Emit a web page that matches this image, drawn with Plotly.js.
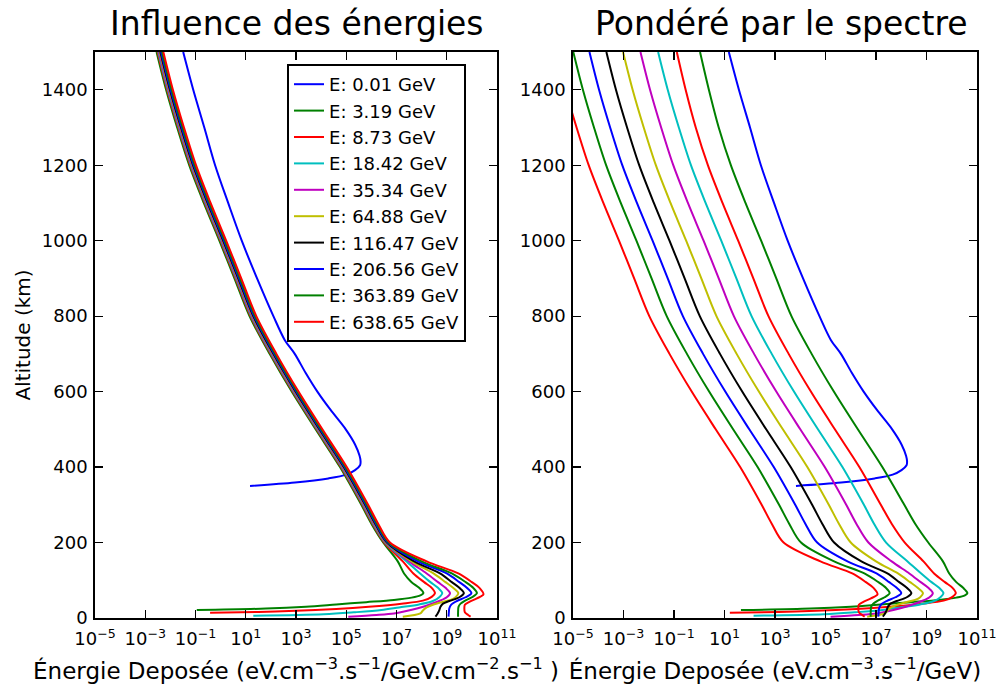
<!DOCTYPE html>
<html><head><meta charset="utf-8">
<script src="https://cdn.plot.ly/plotly-3.0.1.min.js"></script>
<style>html,body{margin:0;padding:0;background:#fff}#chart{width:1001px;height:691px}</style>
</head><body><div id="chart"></div>
<script>
// ---- labels ----
const energyLabels = ["E: 0.01 GeV","E: 3.19 GeV","E: 8.73 GeV","E: 18.42 GeV","E: 35.34 GeV","E: 64.88 GeV","E: 116.47 GeV","E: 206.56 GeV","E: 363.89 GeV","E: 638.65 GeV"];
const lineColors = ["#0000ff","#008000","#ff0000","#00bfbf","#bf00bf","#bfbf00","#000000","#0000ff","#008000","#ff0000"];
const xTickVals = [1e-5,1e-3,1e-1,1e1,1e3,1e5,1e7,1e9,1e11];
const xTickText = ["10<sup>−5</sup>","10<sup>−3</sup>","10<sup>−1</sup>","10<sup>1</sup>","10<sup>3</sup>","10<sup>5</sup>","10<sup>7</sup>","10<sup>9</sup>","10<sup>11</sup>"];
const yTickVals = [0,200,400,600,800,1000,1200,1400];

// ---- altitudes (km) ----
const altUpper = [1500,1400,1300,1200,1100,1000,900,800,700,600,500,400,300,250];
const alt_E001 = [1500,1400,1300,1200,1100,1000,900,800,737,700,650,600,552,500,460,430,415,405,392,380,370,359,350];
const alt_E319 = altUpper.concat([200,150,118,95,80,66,60,54,48,42,36,30,25,21]);
const alt_E873 = altUpper.concat([200,150,118,95,80,66,56,46,38,30,24,19,16,14]);
const alt_E1842 = altUpper.concat([200,150,118,95,80,66,55,45,36,28,21,15,10,6]);
const alt_E3534 = altUpper.concat([200,150,118,95,80,66,55,45,35,26,17,12,8,3.5]);
const alt_E6488 = altUpper.concat([200,150,118,95,80,66,55,48,42,35,28,20,12,3.5]);
const alt_E11647 = altUpper.concat([200,150,118,95,80,66,55,45,38,30,20,10,3.5]);
const alt_E20656 = altUpper.concat([200,150,118,95,80,66,55,45,35,25,12,3.5]);
const alt_E36389 = altUpper.concat([200,150,118,95,80,66,55,45,38,30,15,3.5]);
const alt_E63865 = altUpper.concat([200,150,118,95,80,63,52,43,35,25,15,8,3.5]);

// ---- log10 of deposited energy, left panel (per GeV.cm-2.s-1) ----
const left_E001 = [-1.49,-1.09,-0.65,-0.22,0.30,0.84,1.45,2.10,2.55,2.95,3.38,3.85,4.37,4.98,5.35,5.53,5.57,5.55,5.35,5.0,4.29,2.96,1.17];
const left_E319 = [-2.55,-2.17,-1.73,-1.25,-0.67,-0.05,0.55,1.15,1.95,2.83,3.78,4.75,5.60,6.00,6.47,7.05,7.3,7.6,7.9,8.07,7.95,7.6,6.9,5.8,4.6,3.4,1.8,-0.95];
const left_E873 = [-2.51,-2.13,-1.69,-1.21,-0.63,-0.01,0.59,1.19,1.99,2.87,3.82,4.79,5.64,6.04,6.51,7.25,7.67,8.1,8.4,8.53,8.4,8.05,7.2,5.9,4.6,3.0,1.5,-0.42];
const left_E1842 = [-2.48,-2.10,-1.66,-1.18,-0.60,0.02,0.62,1.22,2.02,2.90,3.85,4.82,5.67,6.07,6.55,7.4,7.94,8.35,8.65,8.82,8.7,8.45,7.9,7.1,6.4,5.3,4.1,1.3];
const left_E3534 = [-2.45,-2.07,-1.63,-1.15,-0.57,0.05,0.65,1.25,2.05,2.93,3.88,4.85,5.70,6.10,6.58,7.5,8.2,8.65,8.95,9.13,9.0,8.7,8.3,7.85,7.3,6.9,6.2,5.08];
const left_E6488 = [-2.42,-2.04,-1.60,-1.12,-0.54,0.08,0.68,1.28,2.08,2.96,3.91,4.88,5.73,6.13,6.60,7.6,8.47,8.95,9.25,9.46,9.35,9.15,8.8,8.45,8.2,8.05,7.95,7.25];
const left_E11647 = [-2.40,-2.02,-1.58,-1.10,-0.52,0.10,0.70,1.30,2.10,2.98,3.93,4.90,5.75,6.15,6.62,7.7,8.73,9.2,9.5,9.68,9.5,9.1,8.85,8.75,8.7,8.62,8.55];
const left_E20656 = [-2.37,-1.99,-1.55,-1.07,-0.49,0.13,0.73,1.33,2.13,3.01,3.96,4.93,5.78,6.18,6.65,7.85,9.0,9.5,9.8,9.98,9.75,9.4,9.17,9.1,9.08,9.07];
const left_E36389 = [-2.33,-1.95,-1.51,-1.03,-0.45,0.17,0.77,1.37,2.17,3.05,4.00,4.97,5.82,6.22,6.69,8.0,9.2,9.75,10.05,10.2,10.0,9.7,9.55,9.47,9.45,9.45];
const left_E63865 = [-2.28,-1.90,-1.46,-0.98,-0.40,0.22,0.82,1.42,2.22,3.10,4.05,5.02,5.87,6.27,6.74,8.2,9.46,10.0,10.3,10.46,10.2,9.9,9.72,9.7,9.72,9.85,9.95];

// ---- log10 of deposited energy, right panel (weighted by spectrum, per GeV) ----
const right_E001 = [1.17,1.57,2.01,2.44,2.96,3.50,4.11,4.76,5.21,5.61,6.04,6.51,7.03,7.64,8.01,8.19,8.23,8.21,8.01,7.66,6.95,5.62,3.83];
const right_E319 = [0.03,0.38,0.77,1.25,1.83,2.45,3.05,3.65,4.45,5.33,6.28,7.25,8.12,8.55,9.07,9.65,9.9,10.18,10.45,10.62,10.52,10.18,9.5,8.4,7.2,6.0,4.4,1.65];
const right_E873 = [-0.89,-0.54,-0.14,0.34,0.92,1.54,2.14,2.74,3.54,4.42,5.37,6.34,7.19,7.62,8.14,8.88,9.30,9.73,10.03,10.16,10.03,9.68,8.83,7.53,6.23,4.63,3.13,1.21];
const right_E1842 = [-1.63,-1.25,-0.81,-0.33,0.25,0.87,1.47,2.07,2.87,3.75,4.70,5.67,6.52,6.92,7.40,8.25,8.79,9.20,9.50,9.67,9.55,9.30,8.75,7.95,7.25,6.15,4.95,2.15];
const right_E3534 = [-2.33,-1.95,-1.51,-1.03,-0.45,0.17,0.77,1.37,2.17,3.05,4.00,4.97,5.82,6.22,6.70,7.62,8.32,8.77,9.07,9.25,9.12,8.82,8.42,7.97,7.42,7.02,6.32,5.20];
const right_E6488 = [-3.02,-2.64,-2.20,-1.72,-1.14,-0.52,0.08,0.68,1.48,2.36,3.31,4.28,5.13,5.53,6.00,7.00,7.87,8.35,8.65,8.86,8.75,8.55,8.20,7.85,7.60,7.45,7.35,6.65];
const right_E11647 = [-3.68,-3.30,-2.86,-2.38,-1.80,-1.18,-0.58,0.02,0.82,1.70,2.65,3.62,4.47,4.87,5.34,6.42,7.45,7.92,8.22,8.40,8.22,7.82,7.57,7.47,7.42,7.34,7.27];
const right_E20656 = [-4.35,-3.97,-3.53,-3.05,-2.47,-1.85,-1.25,-0.65,0.15,1.03,1.98,2.95,3.80,4.20,4.67,5.87,7.02,7.52,7.82,8.00,7.77,7.42,7.19,7.12,7.10,7.09];
const right_E36389 = [-4.99,-4.61,-4.17,-3.69,-3.11,-2.49,-1.89,-1.29,-0.49,0.39,1.34,2.31,3.16,3.56,4.03,5.34,6.54,7.09,7.39,7.54,7.34,7.04,6.89,6.81,6.79,6.79];
const right_E63865 = [-5.68,-5.30,-4.86,-4.38,-3.80,-3.18,-2.58,-1.98,-1.18,-0.30,0.65,1.62,2.47,2.87,3.34,4.80,6.06,6.60,6.90,7.06,6.80,6.50,6.32,6.30,6.32,6.45,6.55];

const altSets = [alt_E001,alt_E319,alt_E873,alt_E1842,alt_E3534,alt_E6488,alt_E11647,alt_E20656,alt_E36389,alt_E63865];
const leftSets = [left_E001,left_E319,left_E873,left_E1842,left_E3534,left_E6488,left_E11647,left_E20656,left_E36389,left_E63865];
const rightSets = [right_E001,right_E319,right_E873,right_E1842,right_E3534,right_E6488,right_E11647,right_E20656,right_E36389,right_E63865];

const toLinear = arr => arr.map(v => Math.pow(10, v));
const traces = [];
for (let i = 0; i < energyLabels.length; i++) {
  traces.push({x: toLinear(leftSets[i]), y: altSets[i], xaxis: 'x', yaxis: 'y', type: 'scatter', mode: 'lines',
    name: energyLabels[i], showlegend: true,
    line: {color: lineColors[i], width: 2, shape: 'spline', smoothing: 0.9}});
}
for (let i = 0; i < energyLabels.length; i++) {
  traces.push({x: toLinear(rightSets[i]), y: altSets[i], xaxis: 'x2', yaxis: 'y2', type: 'scatter', mode: 'lines',
    name: energyLabels[i], showlegend: false,
    line: {color: lineColors[i], width: 2, shape: 'spline', smoothing: 0.9}});
}

const FONT = 'DejaVu Sans, Verdana, sans-serif';
function xAxis(domain, anchor, titleText) {
  return {domain: domain, anchor: anchor, type: 'log', range: [-5, 11],
    tickmode: 'array', tickvals: xTickVals, ticktext: xTickText,
    ticks: 'inside', ticklen: 8, tickwidth: 1.2, tickcolor: '#000',
    showline: true, linecolor: '#000', linewidth: 1.8, mirror: 'ticks',
    showgrid: false, zeroline: false, tickfont: {size: 18, family: FONT, color: '#000'},
    ticklabelstandoff: 4,
    title: {text: titleText, font: {size: 23, family: FONT, color: '#000'}, standoff: 14}};
}
function yAxis(domain, anchor, titleText) {
  const ax = {domain: domain, anchor: anchor, range: [0, 1500],
    tickmode: 'array', tickvals: yTickVals,
    ticks: 'inside', ticklen: 8, tickwidth: 1.2, tickcolor: '#000',
    showline: true, linecolor: '#000', linewidth: 1.8, mirror: 'ticks',
    showgrid: false, zeroline: false, tickfont: {size: 18, family: FONT, color: '#000'},
    ticklabelstandoff: 2};
  if (titleText) ax.title = {text: titleText, font: {size: 20, family: FONT, color: '#000'}, standoff: 6};
  return ax;
}

const layout = {
  width: 1001, height: 691,
  margin: {l: 95, r: 24, t: 52, b: 73},
  paper_bgcolor: '#fff', plot_bgcolor: '#fff',
  font: {family: FONT, color: '#000', size: 18},
  showlegend: true,
  legend: {x: 0.2177, y: 0.9788, xanchor: 'left', yanchor: 'top', bgcolor: '#fff', tracegroupgap: 0,
    bordercolor: '#000', borderwidth: 2, font: {size: 18, family: FONT, color: '#000'}},
  xaxis: xAxis([0, 0.4558], 'y', 'Énergie Deposée (eV.cm<sup>−3</sup>.s<sup>−1</sup>/GeV.cm<sup>−2</sup>.s<sup>−1</sup> )'),
  yaxis: yAxis([0, 1], 'x', 'Altitude (km)'),
  xaxis2: xAxis([0.5420, 1], 'y2', 'Énergie Deposée (eV.cm<sup>−3</sup>.s<sup>−1</sup>/GeV)'),
  yaxis2: yAxis([0, 1], 'x2', null),
  annotations: [
    {text: 'Influence des énergies', xref: 'paper', yref: 'paper', x: 0.2290, y: 1.0512, xanchor: 'center', yanchor: 'middle', showarrow: false, font: {size: 33, family: FONT, color: '#000'}},
    {text: 'Pondéré par le spectre', xref: 'paper', yref: 'paper', x: 0.7778, y: 1.0512, xanchor: 'center', yanchor: 'middle', showarrow: false, font: {size: 33, family: FONT, color: '#000'}}
  ]
};

Plotly.newPlot('chart', traces, layout, {staticPlot: true, displayModeBar: false}).then(function (gd) {
  // copy the computed font size onto each svg text element as an explicit attribute
  gd.querySelectorAll('text').forEach(function (t) {
    const fs = window.getComputedStyle(t).fontSize;
    if (fs) t.setAttribute('font-size', fs);
  });
});
</script>
</body></html>
